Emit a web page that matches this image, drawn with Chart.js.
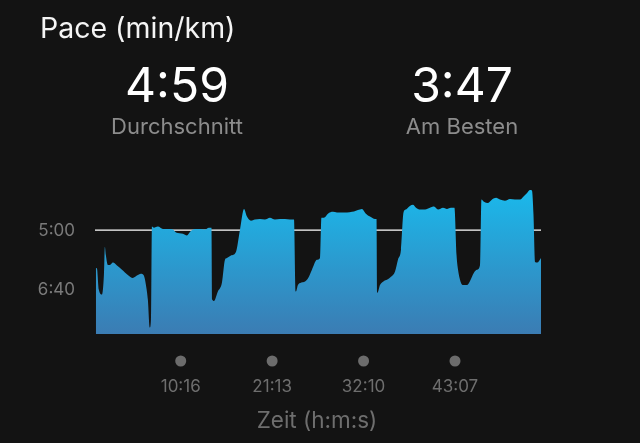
<!DOCTYPE html>
<html>
<head>
<meta charset="utf-8">
<script src="https://cdn.jsdelivr.net/npm/chart.js@4.4.1/dist/chart.umd.min.js"></script>
<style>
    body { margin: 0; background: #131313; font-family: Inter, 'Liberation Sans', sans-serif; }
    #wrap { position: relative; width: 640px; height: 443px; overflow: hidden; }
    #pace-chart { position: absolute; left: 0; top: 0; }
    .txt { position: absolute; white-space: nowrap; line-height: 1; }
    .stat { width: 200px; text-align: center; }
    #title { left: 40px; top: 14px; font-size: 28.5px; color: #f4f4f4; }
    .big { font-size: 48px; color: #ffffff; top: 61px; }
    .sub { font-size: 22px; color: #8c8c8c; top: 115px; }
    #xtitle { left: 217px; width: 200px; text-align: center; top: 409px; font-size: 22.5px; color: #6e6e6e; }
</style>
</head>
<body>
<div id="wrap">
    <canvas id="pace-chart" width="640" height="443"></canvas>
    <div class="txt" id="title">Pace (min/km)</div>
    <div class="txt stat big" style="left:77px">4:59</div>
    <div class="txt stat sub" style="left:77px">Durchschnitt</div>
    <div class="txt stat big" style="left:362px">3:47</div>
    <div class="txt stat sub" style="left:362px">Am Besten</div>
    <div class="txt" id="xtitle">Zeit (h:m:s)</div>
</div>
<script>
// time in seconds, pace in seconds per km
const times = [6, 14, 28, 50, 64, 71, 78, 93, 107, 129, 158, 194, 236, 272, 301, 330, 351, 366, 380, 394, 402, 409,
    423, 452, 488, 524, 560, 582, 632, 661, 682, 718, 754, 790, 818, 837,
    844, 855, 883, 912, 934, 948, 977, 1013, 1042, 1071, 1092, 1121, 1149, 1185, 1221, 1257, 1293, 1329, 1365, 1401, 1430,
    1444, 1458, 1480, 1509, 1530, 1559, 1595, 1617, 1627, 1645, 1674, 1710, 1739, 1775, 1811, 1847, 1875, 1904, 1918, 1947, 1976, 2012, 2023,
    2030, 2048, 2077, 2098, 2127, 2156, 2177, 2199, 2217, 2235, 2263, 2285, 2307, 2336, 2372, 2407, 2436, 2465, 2501, 2529, 2558, 2583,
    2598, 2609, 2630, 2644, 2673, 2695, 2723, 2745, 2767, 2777, 2795, 2824, 2853, 2882, 2910, 2946, 2982, 3018, 3054, 3083, 3105, 3126, 3140, 3151, 3162, 3177, 3205];
const paces = [363, 364, 400, 408, 375, 327, 341, 358, 358, 354, 359, 366, 375, 380, 376, 373, 376, 392, 417, 464, 451, 293,
    295, 293, 297, 297, 298, 303, 305, 308, 302, 297, 297, 298, 295, 295,
    417, 419, 403, 388, 349, 346, 342, 336, 298, 263, 276, 283, 281, 280, 281, 278, 281, 280, 280, 281, 281,
    403, 392, 388, 386, 381, 366, 349, 346, 278, 278, 271, 268, 269, 269, 269, 268, 266, 264, 263, 271, 276, 280, 280,
    405, 392, 385, 383, 378, 369, 349, 332, 269, 264, 258, 256, 261, 264, 264, 261, 259, 264, 261, 263, 261, 261,
    341, 366, 388, 392, 392, 385, 371, 366, 358, 247, 251, 253, 247, 244, 247, 249, 246, 247, 247, 241, 236, 231, 232, 273, 353, 354, 346];

const avgPace = 299;
const totalTime = 3205;

const yTickValues = [300, 400];
const yTickLabels = ['5:00', '6:40'];
const xTickValues = [616, 1273, 1930, 2587];
const xTickLabels = ['10:16', '21:13', '32:10', '43:07'];

const tickDots = {
    id: 'tickDots',
    afterDraw(chart) {
        const ctx = chart.ctx;
        const xScale = chart.scales.x;
        ctx.save();
        ctx.fillStyle = '#6c6c6c';
        xTickValues.forEach(v => {
            ctx.beginPath();
            ctx.arc(xScale.getPixelForValue(v), 361, 5.5, 0, Math.PI * 2);
            ctx.fill();
        });
        ctx.restore();
    }
};

function paceFill(context) {
    const area = context.chart.chartArea;
    if (!area) return '#1ab4e6';
    const g = context.chart.ctx.createLinearGradient(0, area.top, 0, area.bottom);
    g.addColorStop(0, '#18bdef');
    g.addColorStop(1, '#3b7cb3');
    return g;
}

new Chart(document.getElementById('pace-chart'), {
    type: 'line',
    data: {
        datasets: [{
            data: times.map((t, i) => ({ x: t, y: paces[i] })),
            borderWidth: 0,
            pointRadius: 0,
            fill: 'start',
            backgroundColor: paceFill,
            cubicInterpolationMode: 'monotone'
        }, {
            data: [{ x: 0, y: avgPace }, { x: totalTime, y: avgPace }],
            borderColor: '#ffffff',
            borderWidth: 1.2,
            pointRadius: 0,
            fill: false
        }]
    },
    plugins: [tickDots],
    options: {
        responsive: false,
        animation: false,
        layout: { padding: { top: 180, right: 99, left: 0, bottom: 0 } },
        plugins: { legend: { display: false }, tooltip: { enabled: false } },
        scales: {
            x: {
                type: 'linear',
                min: 0,
                max: totalTime,
                grid: { display: false, drawTicks: false },
                border: { display: false },
                afterFit: s => { s.height = 109; },
                afterBuildTicks: s => { s.ticks = xTickValues.map(v => ({ value: v })); },
                ticks: {
                    padding: 43,
                    color: '#6e6e6e',
                    font: { family: 'Inter', size: 17 },
                    maxRotation: 0,
                    callback: v => xTickLabels[xTickValues.indexOf(v)]
                }
            },
            y: {
                reverse: true,
                min: 214,
                max: 475,
                grid: { display: false, drawTicks: false },
                border: { display: false },
                afterFit: s => { s.width = 95; },
                afterBuildTicks: s => { s.ticks = yTickValues.map(v => ({ value: v })); },
                ticks: {
                    padding: 20,
                    color: '#7a7a7a',
                    font: { family: 'Inter', size: 17 },
                    callback: v => yTickLabels[yTickValues.indexOf(v)]
                }
            }
        }
    }
});
</script>
</body>
</html>
